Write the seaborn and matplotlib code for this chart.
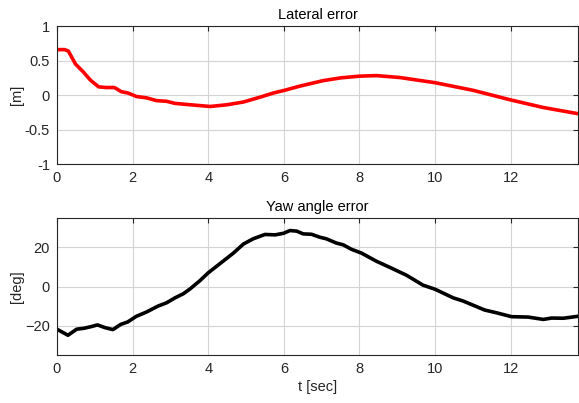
import matplotlib
matplotlib.use("Agg")
import matplotlib.pyplot as plt
import seaborn as sns
import pandas as pd

# Lateral error [m] over time [sec]
t_lat = [0.0, 0.2, 0.3, 0.49, 0.69, 0.88, 1.1, 1.3, 1.52, 1.7, 1.88, 2.1, 2.37, 2.63, 2.9,
         3.12, 3.52, 4.05, 4.5, 4.93, 5.37, 5.72, 6.02, 6.42, 7.04, 7.5, 8.0, 8.45, 9.07,
         10.0, 11.0, 12.0, 12.86, 13.78]
lat_err = [0.66, 0.66, 0.64, 0.45, 0.34, 0.22, 0.12, 0.11, 0.11, 0.05, 0.03, -0.02, -0.04,
           -0.08, -0.09, -0.12, -0.14, -0.165, -0.14, -0.10, -0.03, 0.03, 0.07, 0.13, 0.21,
           0.25, 0.275, 0.283, 0.255, 0.18, 0.07, -0.07, -0.18, -0.27]

# Yaw angle error [deg] over time [sec]
t_yaw = [0.0, 0.29, 0.52, 0.72, 0.9, 1.07, 1.27, 1.48, 1.69, 1.87, 2.1, 2.37, 2.67, 2.9,
         3.12, 3.34, 3.52, 3.78, 4.0, 4.31, 4.66, 4.93, 5.19, 5.5, 5.77, 5.99, 6.16, 6.34,
         6.51, 6.73, 6.95, 7.12, 7.39, 7.57, 7.79, 8.05, 8.45, 8.8, 9.24, 9.68, 10.0,
         10.48, 10.74, 11.31, 11.62, 12.02, 12.46, 12.86, 13.08, 13.39, 13.78]
yaw_err = [-21.8, -24.9, -21.8, -21.3, -20.5, -19.6, -21.0, -22.0, -19.3, -18.1, -15.2,
           -13.0, -10.0, -8.3, -5.8, -3.7, -1.2, 3.0, 7.0, 11.7, 17.0, 21.7, 24.4, 26.6,
           26.4, 27.2, 28.6, 28.3, 26.9, 26.7, 25.2, 24.4, 22.2, 21.3, 19.0, 17.1, 12.9,
           9.8, 5.8, 0.7, -1.4, -5.8, -7.4, -12.0, -13.4, -15.4, -15.6, -16.8, -16.1,
           -16.2, -15.2]

x_ticks = [0, 2, 4, 6, 8, 10, 12]
lat_ticks = [-1, -0.5, 0, 0.5, 1]
lat_tick_labels = ["-1", "-0.5", "0", "0.5", "1"]
yaw_ticks = [-20, 0, 20]

sns.set_style("white")
plt.rcParams["font.family"] = ["Liberation Sans", "DejaVu Sans"]

fig = plt.figure(figsize=(5.79, 4.03), dpi=100)
ax1 = fig.add_axes([0.0984, 0.593, 0.9, 0.342])
ax2 = fig.add_axes([0.0984, 0.119, 0.9, 0.340])

df_lat = pd.DataFrame({"t": t_lat, "e": lat_err})
df_yaw = pd.DataFrame({"t": t_yaw, "e": yaw_err})

sns.lineplot(data=df_lat, x="t", y="e", ax=ax1, color="#ff0000", linewidth=2.6)
sns.lineplot(data=df_yaw, x="t", y="e", ax=ax2, color="#000000", linewidth=2.6)

for ax in (ax1, ax2):
    ax.set_xlim(0, 13.78)
    ax.set_xticks(x_ticks)
    ax.grid(True, color="#d4d4d4", linewidth=0.8)
    ax.set_axisbelow(True)
    for s in ax.spines.values():
        s.set_color("#262626")
        s.set_linewidth(0.8)
        s.set_visible(True)
    ax.tick_params(direction="in", length=3.5, width=0.8, colors="#262626",
                   labelsize=10.5, top=True, right=True, labelcolor="#262626", pad=5)
    ax.set_xlabel("")

ax1.set_ylim(-1, 1)
ax1.set_yticks(lat_ticks)
ax1.set_yticklabels(lat_tick_labels)
ax1.set_ylabel("[m]", fontsize=10.5, color="#262626", labelpad=0.5)
ax1.set_title("Lateral error", fontsize=10.5, color="#000000", pad=5)

ax2.set_ylim(-35, 35)
ax2.set_yticks(yaw_ticks)
ax2.set_ylabel("[deg]", fontsize=10.5, color="#262626", labelpad=0.5)
ax2.set_title("Yaw angle error", fontsize=10.5, color="#000000", pad=5)
ax2.set_xlabel("t [sec]", fontsize=10.5, color="#262626", labelpad=3)

fig.savefig("out.png", dpi=100)
